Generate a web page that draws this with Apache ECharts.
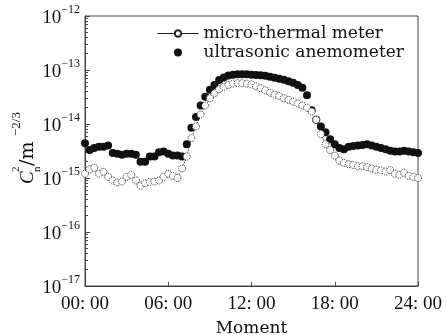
<!DOCTYPE html>
<html>
<head>
<meta charset="utf-8">
<script src="https://cdn.jsdelivr.net/npm/echarts@6/dist/echarts.min.js"></script>
<style>
  html, body { margin: 0; padding: 0; background: #fff; }
  #myChart { width: 447px; height: 335px; }
</style>
</head>
<body>
<div id="myChart"></div>
<script>
const myChart = echarts.init(document.getElementById('myChart'));

// samples every 20 minutes, 00:00 .. 24:00
const microThermal = [
  1.2e-15, 1.45e-15, 1.55e-15, 1.2e-15, 1.3e-15, 1.05e-15, 9.0e-16, 8.3e-16, 8.6e-16, 1.05e-15,
  1.15e-15, 9.0e-16, 7.2e-16, 8.0e-16, 8.4e-16, 8.6e-16, 9.0e-16, 1.05e-15, 1.2e-15, 1.1e-15,
  1.0e-15, 1.5e-15, 2.5e-15, 5.5e-15, 9e-15, 1.5e-14, 2.2e-14, 3.0e-14, 3.7e-14, 4.4e-14,
  4.9e-14, 5.3e-14, 5.6e-14, 5.7e-14, 5.7e-14, 5.6e-14, 5.4e-14, 5.0e-14, 4.6e-14, 4.2e-14,
  3.8e-14, 3.5e-14, 3.3e-14, 3.0e-14, 2.8e-14, 2.6e-14, 2.4e-14, 2.2e-14, 2.0e-14, 1.7e-14,
  1.2e-14, 6.5e-15, 4.2e-15, 3.3e-15, 2.6e-15, 2.1e-15, 1.9e-15, 1.8e-15, 1.75e-15, 1.65e-15,
  1.65e-15, 1.6e-15, 1.5e-15, 1.42e-15, 1.38e-15, 1.32e-15, 1.4e-15, 1.2e-15, 1.15e-15, 1.25e-15,
  1.1e-15, 1.05e-15, 1.0e-15
];
const ultrasonic = [
  4.4e-15, 3.3e-15, 3.6e-15, 3.8e-15, 3.8e-15, 4.0e-15, 2.9e-15, 2.8e-15, 2.7e-15, 2.8e-15,
  2.8e-15, 2.7e-15, 2.0e-15, 2.0e-15, 2.5e-15, 2.5e-15, 3.0e-15, 3.1e-15, 2.8e-15, 2.6e-15,
  2.6e-15, 2.5e-15, 4.2e-15, 8.5e-15, 1.35e-14, 2.2e-14, 3.2e-14, 4.3e-14, 5.3e-14, 6.5e-14,
  7.3e-14, 7.9e-14, 8.2e-14, 8.3e-14, 8.3e-14, 8.3e-14, 8.2e-14, 8.1e-14, 8.0e-14, 7.8e-14,
  7.5e-14, 7.2e-14, 6.9e-14, 6.6e-14, 6.2e-14, 5.8e-14, 5.3e-14, 4.7e-14, 3.4e-14, 1.8e-14,
  1.2e-14, 9e-15, 7e-15, 5.2e-15, 4.2e-15, 3.6e-15, 3.4e-15, 3.8e-15, 3.9e-15, 4.0e-15,
  4.1e-15, 4.2e-15, 4.0e-15, 3.8e-15, 3.6e-15, 3.4e-15, 3.2e-15, 3.1e-15, 3.1e-15, 3.2e-15,
  3.1e-15, 3.0e-15, 2.9e-15
];
const hours = ultrasonic.map((_, i) => i / 3);
const xTickLabels = ['00: 00', '06: 00', '12: 00', '18: 00', '24: 00'];

const serif = '"Liberation Serif", serif';
const wideSerif = '"DejaVu Serif", serif';

const option = {
  animation: false,
  textStyle: { fontFamily: serif, color: '#111' },
  grid: {
    left: 85, right: 29, top: 16, bottom: 49,
    outerBoundsMode: 'none',
    containLabel: false,
    show: true, borderColor: '#444', borderWidth: 1
  },
  legend: {
    orient: 'vertical',
    left: 152, top: 20,
    itemWidth: 41, itemHeight: 8, itemGap: 2,
    textStyle: { fontFamily: wideSerif, fontSize: 17, color: '#111' },
    data: [
      {
        name: 'micro-thermal meter',
        lineStyle: { type: 'solid', width: 1 },
        itemStyle: { borderType: 'solid' }
      },
      { name: 'ultrasonic anemometer' }
    ]
  },
  xAxis: {
    type: 'value',
    min: 0, max: 24, interval: 6,
    name: 'Moment',
    nameLocation: 'middle',
    nameGap: 34,
    nameTextStyle: { fontFamily: wideSerif, fontSize: 17, color: '#111' },
    axisLine: { lineStyle: { color: '#444' } },
    axisTick: { inside: true, length: 4, lineStyle: { color: '#444' } },
    splitLine: { show: false },
    axisLabel: {
      fontFamily: serif, fontSize: 19, color: '#111', margin: 9,
      formatter: v => xTickLabels[v / 6]
    }
  },
  yAxis: {
    type: 'log',
    min: 1e-17, max: 1e-12,
    logBase: 10,
    axisLine: { lineStyle: { color: '#444' } },
    axisTick: { inside: true, length: 5, lineStyle: { color: '#444' } },
    minorTick: { show: true, splitNumber: 9, length: 3, lineStyle: { color: '#444' } },
    splitLine: { show: false },
    axisLabel: {
      margin: 5,
      formatter: v => '{b|10}{s|−' + Math.round(-Math.log10(v)) + '}',
      rich: {
        b: { fontFamily: serif, fontSize: 19, color: '#111', verticalAlign: 'bottom', lineHeight: 24 },
        s: { fontFamily: serif, fontSize: 12, color: '#111', verticalAlign: 'top', lineHeight: 24 }
      }
    }
  },
  graphic: [{
    type: 'group',
    x: 28, y: 147,
    rotation: Math.PI / 2,
    children: [
      { type: 'text', x: -37, y: 0, style: { text: 'C', font: 'italic 19px ' + serif, fill: '#111', verticalAlign: 'middle' } },
      { type: 'text', x: -25, y: -12, style: { text: '2', font: '11px ' + serif, fill: '#111', verticalAlign: 'middle' } },
      { type: 'text', x: -25, y: 9, style: { text: 'n', font: '11px ' + serif, fill: '#111', verticalAlign: 'middle' } },
      { type: 'text', x: -19, y: 0, style: { text: '/m', font: '19px ' + wideSerif, fill: '#111', verticalAlign: 'middle' } },
      { type: 'text', x: 11, y: -11, style: { text: '−2/3', font: '13px ' + serif, fill: '#111', verticalAlign: 'middle' } }
    ]
  }],
  series: [
    {
      name: 'micro-thermal meter',
      type: 'line',
      data: hours.map((h, i) => [h, microThermal[i]]),
      symbol: 'circle',
      symbolSize: 7,
      z: 3,
      lineStyle: { color: '#222', width: 1, type: 'dotted' },
      itemStyle: { color: '#fff', borderColor: '#222', borderWidth: 1, borderType: 'dotted' }
    },
    {
      name: 'ultrasonic anemometer',
      type: 'scatter',
      data: hours.map((h, i) => [h, ultrasonic[i]]),
      symbol: 'circle',
      symbolSize: 8,
      z: 2,
      itemStyle: { color: '#111', opacity: 1 }
    }
  ]
};

myChart.setOption(option);
</script>
</body>
</html>
